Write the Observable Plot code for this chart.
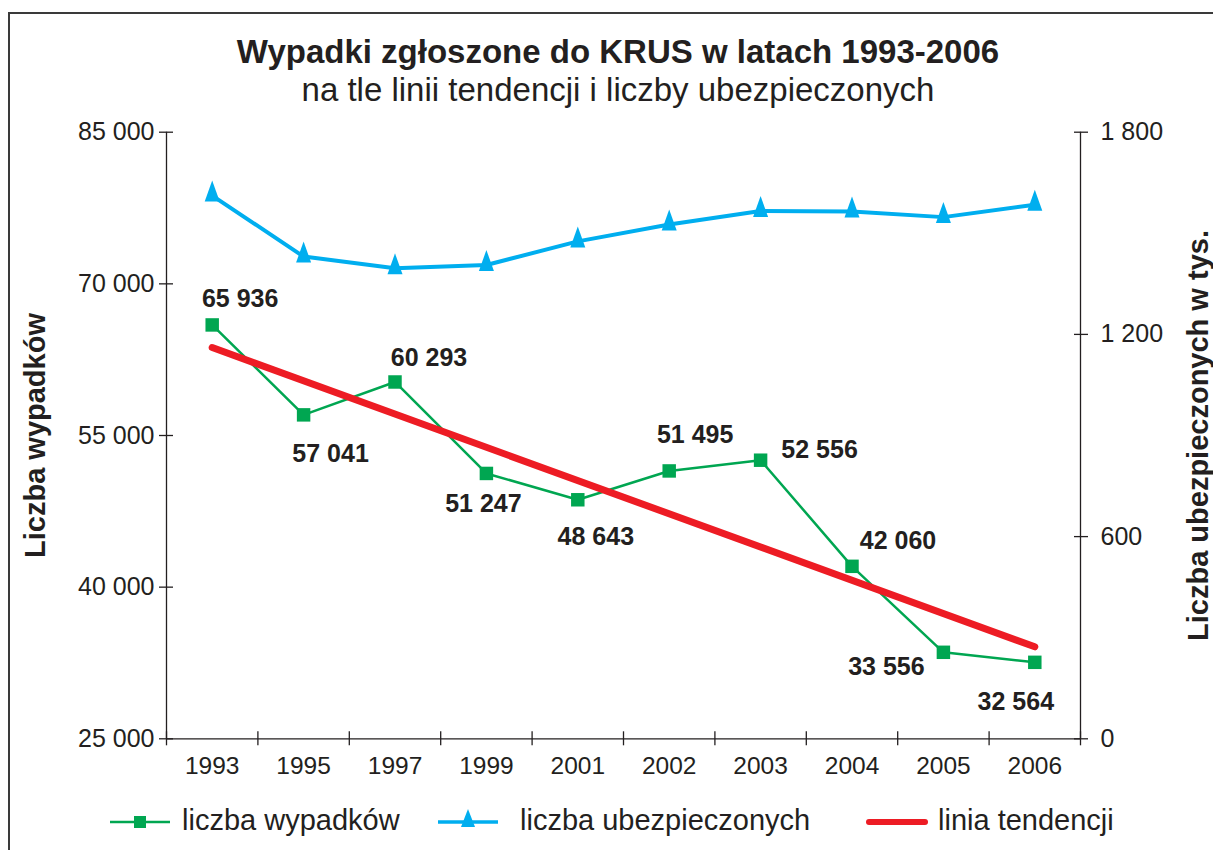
<!DOCTYPE html>
<html><head><meta charset="utf-8">
<script src="https://cdn.jsdelivr.net/npm/d3@7"></script>
<script src="https://cdn.jsdelivr.net/npm/@observablehq/plot@0.6"></script>
<style>
body{margin:0;background:#fff;font-family:"Liberation Sans",Arial,sans-serif;color:#231f20}
#wrap{position:relative;width:1213px;height:850px;overflow:hidden;background:#fff}
#frame{position:absolute;left:8px;top:12px;width:1300px;height:900px;border-left:2px solid #3a3a3a;border-top:2px solid #3a3a3a}
.ttl{position:absolute;left:0;width:1236px;text-align:center;line-height:1;white-space:nowrap}
#title{top:35px;font-weight:bold;font-size:33px}
#subtitle{top:73px;font-size:33px}
#chart{position:absolute;left:0;top:110px}
.leg{position:absolute;top:806px;font-size:29px;line-height:1;white-space:nowrap}
.sw{position:absolute;top:806px}
</style></head>
<body><div id="wrap"><div id="frame"></div>
<div class="ttl" id="title">Wypadki zgłoszone do KRUS w latach 1993-2006</div>
<div class="ttl" id="subtitle">na tle linii tendencji i liczby ubezpieczonych</div>
<div id="chart"></div>
<div id="legend"></div>
</div>
<script>
// ---- data ----
const years = ["1993","1995","1997","1999","2001","2002","2003","2004","2005","2006"];
const accidents = [65936,57041,60293,51247,48643,51495,52556,42060,33556,32564];
const insured = [1612,1431,1396,1406,1476,1526,1566,1565,1548,1585]; // tys.
const trendValues = [63700, 34100]; // trend line at 1993 and 2006
const leftTicks = [25000,40000,55000,70000,85000];
const rightTicks = [0,600,1200,1800];
const seriesNames = ["liczba wypadków","liczba ubezpieczonych","linia tendencji"];
const axisTitles = ["Liczba wypadków","Liczba ubezpieczonych w tys."];
// label offsets (style)
const labelOffsets = [[28,-26],[27,39],[34,-24],[-3,31],[18,37],[26,-36],[59,-10],[46,-25],[-57,15],[-19,40]];

const cGreen = "#00a651", cBlue = "#00aeef", cRed = "#ed1c24", cInk = "#231f20";
const fmt = v => d3.format(",")(v).replace(/,/g, " ");
const L0 = 25000, L1 = 85000, R1 = 1800;
const toL = v => L0 + v * (L1 - L0) / R1;
const xs = d3.range(years.length);
const acc = xs.map(i => ({i, v: accidents[i]}));
const ins = xs.map(i => ({i, v: toL(insured[i])}));
const trend = [{i: 0, v: trendValues[0]}, {i: years.length - 1, v: trendValues[1]}];
const edges = d3.range(-0.5, years.length, 1);

const tri = {draw(ctx, size) {
  const r = Math.sqrt(size / Math.PI);
  ctx.moveTo(0, -2 * r);
  ctx.lineTo(r, 0.8 * r);
  ctx.lineTo(-r, 0.8 * r);
  ctx.closePath();
}};

const labelMarks = acc.map((d, k) => Plot.text([d], {
  x: "i", y: "v", text: d => fmt(d.v), dx: labelOffsets[k][0], dy: labelOffsets[k][1],
  fontSize: 25, fontWeight: "bold", fill: cInk
}));

const chart = Plot.plot({
  width: 1213, height: 680,
  marginTop: 21.7, marginBottom: 51.7, marginLeft: 166, marginRight: 133,
  x: {type: "linear", domain: [-0.5, years.length - 0.5], axis: null},
  y: {domain: [L0, L1], axis: null},
  style: {fontFamily: "'Liberation Sans', Arial, sans-serif", color: cInk, background: "transparent", overflow: "visible"},
  marks: [
    Plot.ruleX([-0.5, years.length - 0.5], {stroke: cInk, strokeWidth: 1.3}),
    Plot.ruleY([L0], {stroke: cInk, strokeWidth: 1.3}),
    Plot.axisY({ticks: leftTicks, anchor: "left", tickSize: 14, dx: 7, fill: "none", tickFormat: () => "", label: null, strokeWidth: 1.3}),
    Plot.axisY({ticks: leftTicks, anchor: "left", tickSize: 0, tickPadding: 12, tickFormat: fmt, fontSize: 25, label: null}),
    Plot.axisY({ticks: rightTicks.map(toL), anchor: "right", tickSize: 14, dx: -7, fill: "none", tickFormat: () => "", label: null, strokeWidth: 1.3}),
    Plot.axisY({ticks: rightTicks.map(toL), anchor: "right", tickSize: 0, tickPadding: 20,
      tickFormat: d => fmt(Math.round((d - L0) * R1 / (L1 - L0))), fontSize: 25, label: null}),
    Plot.axisX({ticks: edges, tickSize: 14, dy: -7, fill: "none", tickFormat: () => "", label: null, strokeWidth: 1.3}),
    Plot.axisX({ticks: xs, tickSize: 0, tickPadding: 18, tickFormat: i => years[i], fontSize: 24.5, label: null}),
    Plot.line(ins, {x: "i", y: "v", stroke: cBlue, strokeWidth: 4}),
    Plot.dot(ins, {x: "i", y: "v", symbol: tri, r: 7.5, fill: cBlue, stroke: "none"}),
    Plot.line(acc, {x: "i", y: "v", stroke: cGreen, strokeWidth: 2.5}),
    Plot.dot(acc, {x: "i", y: "v", symbol: "square", r: 7.6, fill: cGreen, stroke: "none"}),
    Plot.line(trend, {x: "i", y: "v", stroke: cRed, strokeWidth: 7, strokeLinecap: "round"}),
    ...labelMarks,
    Plot.text([axisTitles[0]], {text: d => d, frameAnchor: "left", textAnchor: "middle", dx: -131, rotate: -90, fontSize: 29, fontWeight: "bold", fill: cInk}),
    Plot.text([axisTitles[1]], {text: d => d, frameAnchor: "right", textAnchor: "middle", dx: 118, rotate: -90, fontSize: 29, fontWeight: "bold", fill: cInk})
  ]
});
document.getElementById("chart").appendChild(chart);

// legend
const legend = document.getElementById("legend");
const items = [
  {x: 110, tx: 182, color: cGreen, w: 2.5, mark: "sq"},
  {x: 438, tx: 520, color: cBlue, w: 3.5, mark: "tri"},
  {x: 866, tx: 938, color: cRed, w: 6, mark: null}
];
items.forEach((it, k) => {
  const sw = 60;
  let m = "";
  if (it.mark === "sq") m = `<rect x="${sw/2 - 6}" y="10" width="12" height="12" fill="${it.color}"/>`;
  if (it.mark === "tri") m = `<path d="M${sw/2},3 L${sw/2 + 7},21 L${sw/2 - 7},21 Z" fill="${it.color}"/>`;
  const cap = it.mark ? "butt" : "round";
  legend.insertAdjacentHTML("beforeend",
    `<svg class="sw" style="left:${it.x}px" width="${sw + 4}" height="32"><line x1="${it.mark ? 0 : 3}" x2="${it.mark ? sw : sw - 1}" y1="16" y2="16" stroke="${it.color}" stroke-width="${it.w}" stroke-linecap="${cap}"/>${m}</svg>` +
    `<div class="leg" style="left:${it.tx}px">${seriesNames[k]}</div>`);
});
</script>
</body></html>
